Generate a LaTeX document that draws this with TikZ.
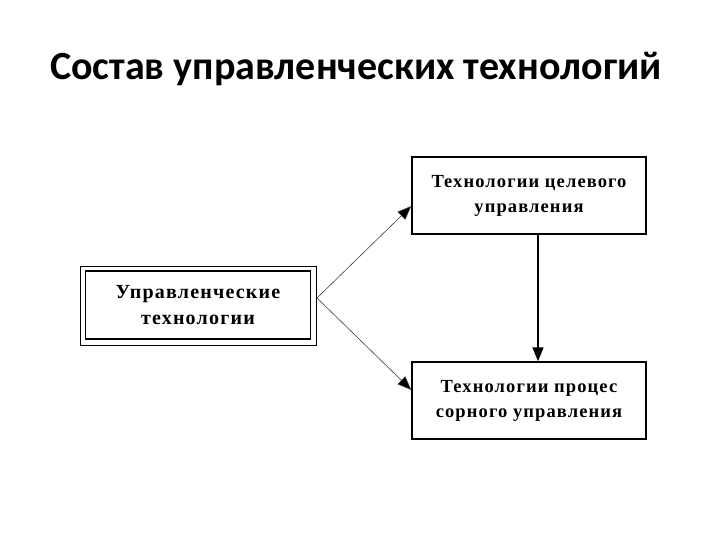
\documentclass[tikz,border=0pt]{standalone}
\usepackage{fontspec}
\setmainfont{Liberation Serif}
\newfontfamily\boxfont[LetterSpace=6]{Liberation Serif}
\newfontfamily\titlefont{Carlito}
\usetikzlibrary{arrows.meta}
\begin{document}
\begin{tikzpicture}[x=1pt,y=-1pt,
  box/.style={draw=black,line width=1.3pt,minimum width=234pt,minimum height=77pt,
    align=center,font=\boxfont\bfseries\fontsize{18.5}{25}\selectfont,inner sep=0pt},
  thinarrow/.style={draw=black!75,line width=0.6pt,-{Triangle[length=14pt,width=11pt,fill=black]}},
  thickarrow/.style={draw=black,line width=1.4pt,-{Triangle[length=14pt,width=11pt]}}]
\useasboundingbox (0,0) rectangle (720,540);
\node[font=\titlefont\bfseries\fontsize{40}{44}\selectfont,anchor=base] (title) at (356,80) {Состав управленческих технологий};
\node[draw=black,line width=0.6pt,minimum width=236pt,minimum height=79pt,inner sep=0pt] (lout) at (198,305.5) {};
\node[box,minimum width=225pt,minimum height=68pt,font=\boxfont\bfseries\fontsize{20}{26}\selectfont] (left) at (198,305) {Управленческие\\технологии};
\node[box] (top) at (529,195.5) {Технологии целевого\\управления};
\node[box] (bot) at (529,400.5) {Технологии процес\\сорного управления};
\coordinate (src) at (317,298);
\draw[thinarrow] (src) -- (top.west |- 0,206);
\draw[thinarrow] (src) -- (bot.west |- 0,390);
\draw[thickarrow] (top.south -| 538,0) -- (bot.north -| 538,0);
\end{tikzpicture}
\end{document}
